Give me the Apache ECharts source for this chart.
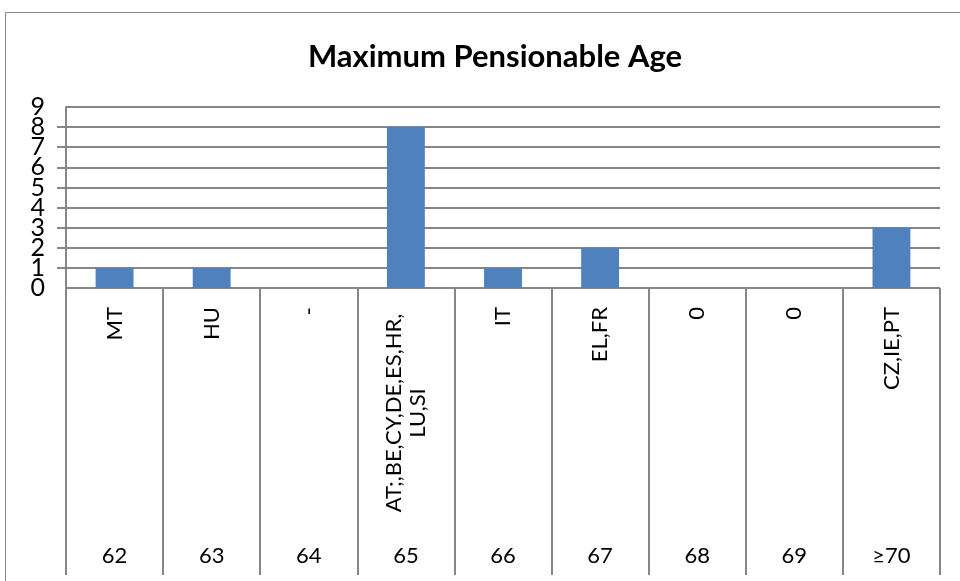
<!DOCTYPE html>
<html>
<head>
<meta charset="utf-8">
<script src="https://cdn.jsdelivr.net/npm/echarts@6/dist/echarts.min.js"></script>
<style>
  html, body { margin: 0; padding: 0; background: #fff; }
  #main { width: 960px; height: 581px; }
</style>
</head>
<body>
<div id="main"></div>
<script>
// ages (lower category row) and the countries for each age (upper row)
const ages = ['62', '63', '64', '65', '66', '67', '68', '69', '≥70'];
const countries = ['MT', 'HU', '-', 'AT;,BE,CY,DE,ES,HR,\nLU,SI', 'IT', 'EL,FR', '0', '0', 'CZ,IE,PT'];
const counts = [1, 1, 0, 8, 1, 2, 0, 0, 3];
const yTicks = [0, 9, 1]; // min, max, interval

const font = 'Lato, "Open Sans", sans-serif';
const gray = '#868686';

const chart = echarts.init(document.getElementById('main'));

const yLabel = { margin: 21, fontFamily: font, fontSize: 25, color: '#000' };

chart.setOption({
  animation: false,
  backgroundColor: '#fff',
  title: {
    text: 'Maximum Pensionable Age',
    left: 490,
    textAlign: 'center',
    top: 36,
    textStyle: { fontFamily: font, fontSize: 31, fontWeight: 'bold', color: '#000' }
  },
  graphic: [{
    type: 'rect',
    shape: { x: 5.5, y: 12.5, width: 1000, height: 1000 },
    style: { fill: 'none', stroke: gray, lineWidth: 1 }
  }],
  grid: { left: 66, right: 20, top: 107, bottom: 293 },
  xAxis: [{
    type: 'category',
    data: countries,
    position: 'bottom',
    axisLine: { show: true, lineStyle: { color: gray, width: 1 } },
    axisTick: { show: true, length: 287, interval: 0, lineStyle: { color: gray, width: 2 } },
    axisLabel: {
      interval: 0,
      rotate: 90,
      margin: 19,
      fontFamily: font,
      fontSize: 22,
      color: '#000',
      formatter: function (v) {
        if (v.indexOf('\n') < 0) return v;
        return v.split('\n').map(function (s) { return '{c|' + s + '}'; }).join('\n');
      },
      rich: {
        c: { width: 212, align: 'center', fontFamily: font, fontSize: 22, color: '#000', lineHeight: 24 }
      }
    },
    splitLine: { show: false }
  }, {
    type: 'category',
    data: ages,
    position: 'bottom',
    offset: 257,
    axisLine: { show: false },
    axisTick: { show: false },
    axisLabel: { interval: 0, margin: 0, fontFamily: font, fontSize: 22, color: '#000' }
  }],
  yAxis: [{
    type: 'value',
    min: yTicks[0],
    max: yTicks[1],
    interval: yTicks[2],
    axisLine: { show: true, lineStyle: { color: gray, width: 2 } },
    axisTick: { show: true, length: 9, lineStyle: { color: gray, width: 2 } },
    // inner labels here; the end labels come from the second axis so none get hidden
    axisLabel: Object.assign({ showMinLabel: false, showMaxLabel: false }, yLabel),
    splitLine: { show: true, lineStyle: { color: gray, width: 2 } }
  }, {
    type: 'value',
    position: 'left',
    min: yTicks[0],
    max: yTicks[1],
    interval: yTicks[1] - yTicks[0],
    axisLine: { show: false },
    axisTick: { show: false },
    axisLabel: yLabel,
    splitLine: { show: false }
  }],
  series: [{
    type: 'bar',
    data: counts,
    barWidth: '39%',
    itemStyle: { color: '#4F81BD' }
  }]
});
</script>
</body>
</html>
